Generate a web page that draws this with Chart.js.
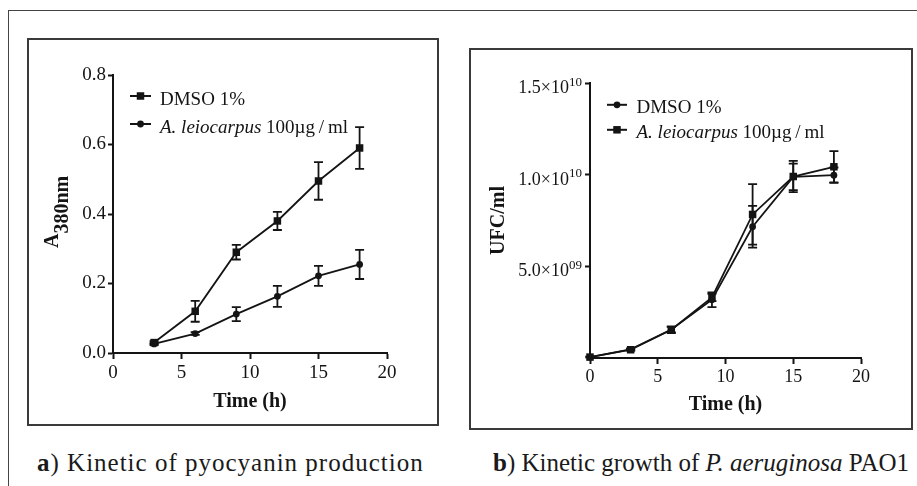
<!DOCTYPE html>
<html><head><meta charset="utf-8">
<script src="https://cdn.jsdelivr.net/npm/chart.js@4.4.1/dist/chart.umd.min.js"></script>
<style>
html,body{margin:0;padding:0;background:#fff;width:917px;height:486px;overflow:hidden;position:relative;}
.abs{position:absolute;box-sizing:content-box;}
#outer{left:8px;top:10px;width:980px;height:560px;border-left:1px solid #444;border-top:1px solid #444;}
#boxA{left:27px;top:38px;width:408px;height:384px;border:2px solid #3a3a3a;}
#boxB{left:469px;top:48px;width:440px;height:378px;border:2px solid #3a3a3a;}
#cA{left:29px;top:40px;}
#cB{left:471px;top:50px;}
.cap{font-family:"Liberation Serif","Times New Roman",serif;font-size:25px;line-height:25px;color:#1a1a1a;white-space:nowrap;}
#capA{left:37px;top:450px;letter-spacing:1px;}
#capB{left:493px;top:450px;letter-spacing:0px;}
</style></head>
<body>
<div id="outer" class="abs"></div>
<div id="boxA" class="abs"></div>
<div id="boxB" class="abs"></div>
<canvas id="cA" class="abs" width="408" height="384"></canvas>
<canvas id="cB" class="abs" width="440" height="378"></canvas>
<div id="capA" class="abs cap"><b>a</b>) Kinetic of pyocyanin production</div>
<div id="capB" class="abs cap"><b>b</b>) Kinetic growth of <i>P. aeruginosa</i> PAO1</div>
<script>
// ---- data: panel a (pyocyanin, A380nm) ----
const timeA = [3, 6, 9, 12, 15, 18];
const dmsoA = [0.030, 0.120, 0.290, 0.380, 0.495, 0.590];
const dmsoAErr = [0.004, 0.030, 0.021, 0.026, 0.054, 0.060];
const leioA = [0.026, 0.056, 0.112, 0.163, 0.222, 0.255];
const leioAErr = [0.003, 0.004, 0.020, 0.030, 0.029, 0.042];
const xTicks = [0, 5, 10, 15, 20];
const yTicksA = [0.0, 0.2, 0.4, 0.6, 0.8];

// ---- data: panel b (growth, UFC/ml) ----
const timeB = [0, 3, 6, 9, 12, 15, 18];
const dmsoB = [0.05e9, 0.47e9, 1.55e9, 3.18e9, 7.16e9, 9.88e9, 9.97e9];
const dmsoBErr = [0.02e9, 0.05e9, 0.15e9, 0.40e9, 1.14e9, 0.72e9, 0.42e9];
const leioB = [0.05e9, 0.45e9, 1.54e9, 3.30e9, 7.83e9, 9.90e9, 10.43e9];
const leioBErr = [0.02e9, 0.05e9, 0.18e9, 0.20e9, 1.65e9, 0.85e9, 0.85e9];
const yTicksB = [5e9, 1e10, 1.5e10];
const yTickMantB = ['5.0×10', '1.0×10', '1.5×10'];
const yTickExpB = ['09', '10', '10'];

// ---- labels ----
const seriesDMSO = [{text: 'DMSO 1%', italic: false}];
const seriesLeio = [{text: 'A. leiocarpus', italic: true}, {text: ' 100µg\u2009/\u2009ml', italic: false}];
const xTitle = 'Time (h)';
const yTitleA = ['A', '380nm'];
const yTitleB = 'UFC/ml';

const INK = '#141414';
const FAM = '"Liberation Serif", "Times New Roman", serif';

function drawMarker(ctx, style, r, x, y) {
  ctx.beginPath();
  if (style === 'rect') {
    const s = Math.SQRT1_2 * r;
    ctx.rect(x - s, y - s, 2 * s, 2 * s);
  } else {
    ctx.arc(x, y, r, 0, Math.PI * 2);
  }
  ctx.fillStyle = INK;
  ctx.fill();
}

const errorBars = {
  id: 'errorBars',
  beforeDatasetsDraw(chart) {
    const ctx = chart.ctx, xs = chart.scales.x, ys = chart.scales.y;
    ctx.save();
    ctx.strokeStyle = INK; ctx.lineWidth = 1.8;
    chart.data.datasets.forEach(ds => {
      if (!ds.errors) return;
      ds.data.forEach((p, i) => {
        const e = ds.errors[i];
        if (!e) return;
        const x = xs.getPixelForValue(p.x);
        const y1 = ys.getPixelForValue(p.y + e), y2 = ys.getPixelForValue(p.y - e);
        ctx.beginPath();
        ctx.moveTo(x, y1); ctx.lineTo(x, y2);
        ctx.moveTo(x - 4.5, y1); ctx.lineTo(x + 4.5, y1);
        ctx.moveTo(x - 4.5, y2); ctx.lineTo(x + 4.5, y2);
        ctx.stroke();
      });
    });
    ctx.restore();
  }
};

const customLegend = {
  id: 'customLegend',
  afterDraw(chart, args, o) {
    const ctx = chart.ctx;
    chart.data.datasets.forEach((ds, i) => {
      const base = o.baselines[i];
      const my = base - o.markerRise;
      ctx.save();
      ctx.strokeStyle = INK; ctx.lineWidth = 2;
      ctx.beginPath(); ctx.moveTo(o.x0, my); ctx.lineTo(o.x1, my); ctx.stroke();
      drawMarker(ctx, ds.pointStyle, ds.pointRadius, (o.x0 + o.x1) / 2, my);
      let x = o.textX;
      ctx.fillStyle = INK; ctx.textAlign = 'left'; ctx.textBaseline = 'alphabetic';
      ds.legendParts.forEach(part => {
        ctx.font = (part.italic ? 'italic ' : '') + o.size + 'px ' + FAM;
        ctx.fillText(part.text, x, base);
        x += ctx.measureText(part.text).width;
      });
      ctx.restore();
    });
  }
};

const yTitleSub = {
  id: 'yTitleSub',
  afterDraw(chart, args, o) {
    if (!o.parts) return;
    const ctx = chart.ctx;
    ctx.save();
    ctx.translate(o.x, o.y); ctx.rotate(-Math.PI / 2);
    ctx.font = 'bold 20px ' + FAM; ctx.fillStyle = INK;
    ctx.textAlign = 'left'; ctx.textBaseline = 'alphabetic';
    ctx.fillText(o.parts[0], 0, 0);
    const w = ctx.measureText(o.parts[0]).width;
    ctx.fillText(o.parts[1], w, o.drop);
    ctx.restore();
  }
};

const sciTicks = {
  id: 'sciTicks',
  afterDraw(chart, args, o) {
    if (!o.values) return;
    const ys = chart.scales.y, ctx = chart.ctx;
    const right = chart.chartArea.left - o.gap;
    ctx.save();
    ctx.fillStyle = INK; ctx.textAlign = 'right'; ctx.textBaseline = 'alphabetic';
    o.values.forEach((v, i) => {
      const y = ys.getPixelForValue(v);
      ctx.font = '13px ' + FAM;
      const ew = ctx.measureText(o.exps[i]).width;
      ctx.fillText(o.exps[i], right, y + 2.5);
      ctx.font = '18px ' + FAM;
      ctx.fillText(o.mants[i], right - ew, y + 10);
    });
    ctx.restore();
  }
};

function series(xs, ys, errs, style, r, parts) {
  return {
    label: parts.map(p => p.text).join(''),
    legendParts: parts,
    data: xs.map((t, i) => ({x: t, y: ys[i]})),
    errors: errs,
    pointStyle: style, pointRadius: r, pointHoverRadius: r,
    pointBackgroundColor: INK, pointBorderColor: INK, pointBorderWidth: 0,
    borderColor: INK, backgroundColor: INK, borderWidth: 1.8,
    tension: 0, fill: false, clip: false
  };
}

function axisCommon(tickLen) {
  return {
    grid: {display: true, drawOnChartArea: false, drawTicks: true, tickLength: tickLen,
           tickWidth: 2, tickColor: INK, color: INK},
    border: {display: true, color: INK, width: 2}
  };
}

function fixedTicks(list) {
  return s => { s.ticks = list.map(v => ({value: v})); };
}

// ---- chart a ----
new Chart(document.getElementById('cA'), {
  type: 'line',
  data: {datasets: [
    series(timeA, dmsoA, dmsoAErr, 'rect', 5.3, seriesDMSO),
    series(timeA, leioA, leioAErr, 'circle', 3.4, seriesLeio)
  ]},
  options: {
    responsive: false, animation: false, devicePixelRatio: 1,
    layout: {padding: {top: 35, right: 50, left: 0, bottom: 0}},
    plugins: {
      legend: {display: false}, tooltip: {enabled: false},
      customLegend: {x0: 101, x1: 122, textX: 131, baselines: [65, 93], markerRise: 9, size: 19},
      yTitleSub: {parts: yTitleA, x: 29, y: 208, drop: 10}
    },
    scales: {
      x: Object.assign(axisCommon(6), {
        type: 'linear', min: 0, max: 20,
        afterBuildTicks: fixedTicks(xTicks),
        ticks: {color: INK, font: {family: FAM, size: 19, lineHeight: 1.2}, padding: 3, maxRotation: 0, autoSkip: false},
        title: {display: true, text: xTitle, color: INK, font: {family: FAM, size: 20, weight: 'bold', lineHeight: 1.2}, padding: {top: 0, bottom: 10.5}},
        afterFit: s => { s.height = 71; }
      }),
      y: Object.assign(axisCommon(5), {
        type: 'linear', min: 0, max: 0.8,
        afterBuildTicks: fixedTicks(yTicksA),
        ticks: {color: INK, font: {family: FAM, size: 19, lineHeight: 1.2}, padding: 2, callback: v => Number(v).toFixed(1)},
        afterFit: s => { s.width = 84; }
      })
    }
  },
  plugins: [errorBars, customLegend, yTitleSub]
});

// ---- chart b ----
new Chart(document.getElementById('cB'), {
  type: 'line',
  data: {datasets: [
    series(timeB, dmsoB, dmsoBErr, 'circle', 3.4, seriesDMSO),
    series(timeB, leioB, leioBErr, 'rect', 5.3, seriesLeio)
  ]},
  options: {
    responsive: false, animation: false, devicePixelRatio: 1,
    layout: {padding: {top: 33, right: 50, left: 0, bottom: 0}},
    plugins: {
      legend: {display: false}, tooltip: {enabled: false},
      customLegend: {x0: 136, x1: 156, textX: 165.5, baselines: [63.3, 88.3], markerRise: 8.5, size: 19},
      sciTicks: {values: yTicksB, mants: yTickMantB, exps: yTickExpB, gap: 8}
    },
    scales: {
      x: Object.assign(axisCommon(6), {
        type: 'linear', min: 0, max: 20,
        afterBuildTicks: fixedTicks(xTicks),
        ticks: {color: INK, font: {family: FAM, size: 18, lineHeight: 1.2}, padding: 2, maxRotation: 0, autoSkip: false},
        title: {display: true, text: xTitle, color: INK, font: {family: FAM, size: 20, weight: 'bold', lineHeight: 1.2}, padding: {top: 0, bottom: 11}},
        afterFit: s => { s.height = 70; }
      }),
      y: Object.assign(axisCommon(5), {
        type: 'linear', min: 0, max: 1.5e10,
        afterBuildTicks: fixedTicks(yTicksB),
        ticks: {display: false},
        title: {display: true, text: yTitleB, color: INK, font: {family: FAM, size: 20, weight: 'bold', lineHeight: 1.2}, padding: {top: 15.5, bottom: 0}},
        afterFit: s => { s.width = 119; }
      })
    }
  },
  plugins: [errorBars, customLegend, sciTicks]
});
</script>
</body></html>
